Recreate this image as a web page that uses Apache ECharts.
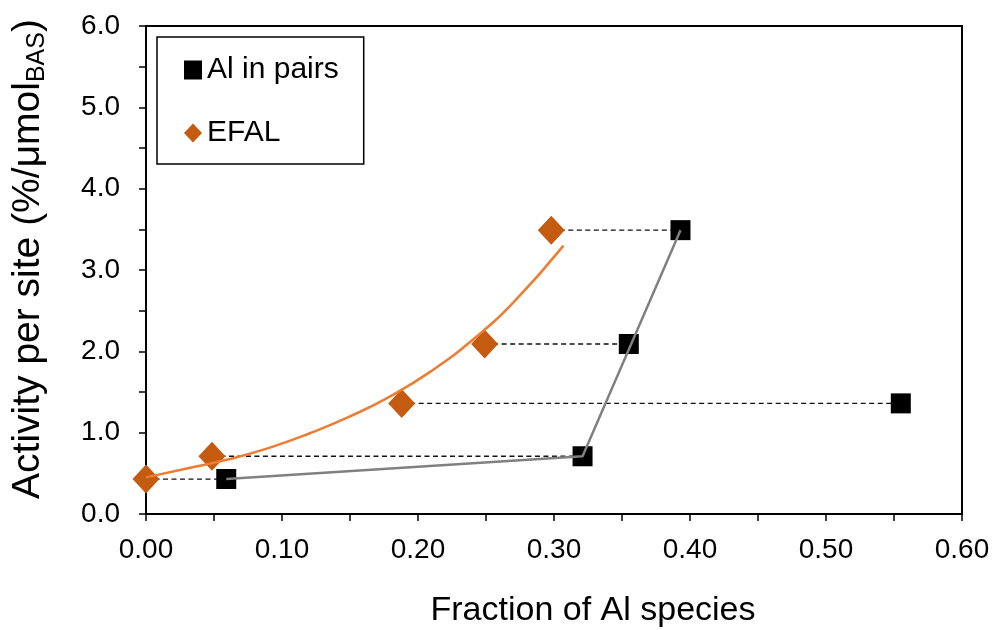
<!DOCTYPE html>
<html>
<head>
<meta charset="utf-8">
<script src="https://cdn.jsdelivr.net/npm/echarts@6/dist/echarts.min.js"></script>
<style>html,body{margin:0;padding:0;background:#fff}#c{width:993px;height:630px}</style>
</head>
<body>
<div id="c"></div>
<script>
// Data
const pairsX = [0.059, 0.321, 0.555, 0.355, 0.393];
const pairsY = [0.43, 0.71, 1.36, 2.09, 3.49];
const efalX = [0.000, 0.0485, 0.188, 0.249, 0.298];
const efalY = [0.43, 0.71, 1.36, 2.09, 3.49];
// grey connecting line through selected "Al in pairs" points
const greyX = [0.059, 0.321, 0.393];
const greyY = [0.43, 0.71, 3.49];
// orange trend curve points
const curveX = [0.000, 0.030, 0.060, 0.090, 0.120, 0.150, 0.180, 0.210, 0.240, 0.270, 0.307];
const curveY = [0.45, 0.56, 0.67, 0.81, 0.99, 1.20, 1.45, 1.76, 2.14, 2.60, 3.30];
const xTicks = [0, 0.1, 0.2, 0.3, 0.4, 0.5, 0.6];
const yTicks = [0, 1, 2, 3, 4, 5, 6];

const zip = (a, b) => a.map((v, i) => [v, b[i]]);
const FONT = '"Liberation Sans", Arial, sans-serif';

const series = [];
// dashed connectors (EFAL -> Al in pairs at same activity)
efalX.forEach((x, i) => {
  series.push({
    name: 'conn' + i, type: 'line', silent: true, symbol: 'none', z: 1,
    data: [[x, efalY[i]], [pairsX[i], pairsY[i]]],
    lineStyle: { color: '#111', width: 1.3, type: [5, 3.5] }
  });
});
series.push({
  name: 'Al in pairs', type: 'scatter', symbol: 'rect', symbolSize: 20, z: 3,
  itemStyle: { color: '#000', opacity: 1 },
  data: zip(pairsX, pairsY)
});
series.push({
  name: 'EFAL', type: 'scatter', symbol: 'diamond', symbolSize: [27, 29], z: 3,
  itemStyle: { color: '#C55A11', opacity: 1 },
  data: zip(efalX, efalY)
});
series.push({
  name: 'grey', type: 'line', symbol: 'none', z: 4, silent: true,
  data: zip(greyX, greyY),
  lineStyle: { color: '#808080', width: 2.5 }
});
series.push({
  name: 'trend', type: 'line', symbol: 'none', z: 4, silent: true, smooth: 0.5,
  data: zip(curveX, curveY),
  lineStyle: { color: '#ED7D31', width: 2.5 }
});

const chart = echarts.init(document.getElementById('c'), null, { renderer: 'canvas' });
chart.setOption({
  animation: false,
  backgroundColor: '#fff',
  textStyle: { fontFamily: FONT, color: '#000' },
  grid: {
    left: 146, top: 26, width: 816, height: 488, containLabel: false, outerBoundsMode: 'none',
    show: true, borderColor: '#000', borderWidth: 2, backgroundColor: 'transparent'
  },
  legend: {
    left: 157, top: 37,
    orient: 'vertical',
    padding: [18, 25, 16, 27],
    borderColor: '#000', borderWidth: 1.5,
    itemWidth: 18, itemHeight: 19, itemGap: 33,
    textStyle: { fontFamily: FONT, fontSize: 30, color: '#000' },
    data: [{ name: 'Al in pairs', icon: 'rect' }, { name: 'EFAL', icon: 'diamond' }]
  },
  xAxis: {
    type: 'value', min: xTicks[0], max: xTicks[xTicks.length - 1], interval: 0.1,
    name: 'Fraction of Al species', nameLocation: 'middle', nameGap: 80,
    nameTextStyle: { fontFamily: FONT, fontSize: 34, color: '#000', padding: [0, 0, 0, 78] },
    axisLine: { onZero: false, lineStyle: { color: '#000', width: 2 } },
    axisTick: { show: true, inside: false, length: 7, lineStyle: { color: '#000', width: 1.5 } },
    minorTick: { show: true, splitNumber: 2, length: 7, lineStyle: { color: '#000', width: 1.5 } },
    splitLine: { show: false },
    axisLabel: { fontFamily: FONT, fontSize: 28, color: '#000', margin: 22, formatter: v => v.toFixed(2) }
  },
  yAxis: {
    type: 'value', min: yTicks[0], max: yTicks[yTicks.length - 1], interval: 1,
    name: 'Activity per site (%/μmol{sub|BAS})', nameLocation: 'middle', nameGap: 96, nameRotate: 90,
    nameTextStyle: {
      fontFamily: FONT, fontSize: 39, color: '#000', padding: [0, 0, 0, 22],
      rich: { sub: { fontFamily: FONT, fontSize: 25, color: '#000', padding: [18, 0, 0, 0] } }
    },
    axisLine: { onZero: false, lineStyle: { color: '#000', width: 2 } },
    axisTick: { show: true, inside: false, length: 7, lineStyle: { color: '#000', width: 1.5 } },
    minorTick: { show: true, splitNumber: 2, length: 7, lineStyle: { color: '#000', width: 1.5 } },
    splitLine: { show: false },
    axisLabel: { fontFamily: FONT, fontSize: 28, color: '#000', margin: 26, formatter: v => v.toFixed(1) }
  },
  series: series
});
</script>
</body>
</html>
